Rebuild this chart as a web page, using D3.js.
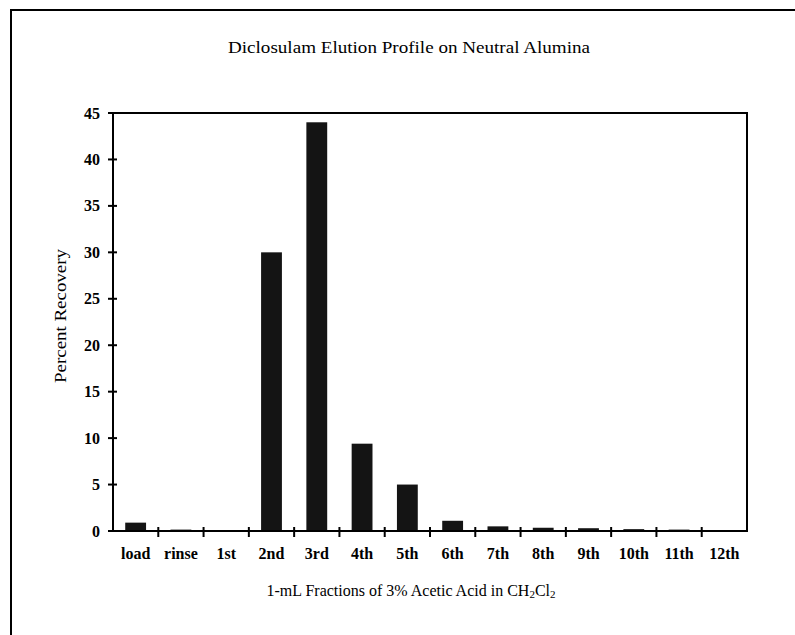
<!DOCTYPE html>
<html>
<head>
<meta charset="utf-8">
<script src="https://cdn.jsdelivr.net/npm/d3@7"></script>
<style>
body{margin:0;background:#fff}
svg{display:block}
text{font-family:"Liberation Serif","DejaVu Serif",serif;fill:#000}
</style>
</head>
<body>
<div id="chart"></div>
<script>
var fractions = ["load","rinse","1st","2nd","3rd","4th","5th","6th","7th","8th","9th","10th","11th","12th"]
var recovery = [0.9,0.15,0,30,44,9.4,5,1.1,0.5,0.35,0.3,0.2,0.15,0.1]
var yTicks = [0,5,10,15,20,25,30,35,40,45]

var data = fractions.map((f,i)=>({fraction:f,value:recovery[i]}))

var svg = d3.select("#chart")
  .append("svg")
  .attr("width",795)
  .attr("height",635)

// outer frame of the scanned figure
svg.append("path")
  .attr("d","M11,640 L11,10 L800,10")
  .attr("fill","none")
  .attr("stroke","black")
  .attr("stroke-width",2)

var plotL = 113, plotR = 747, plotT = 113, plotB = 531

var x = d3.scaleBand()
  .domain(fractions)
  .range([plotL,plotR])
  .paddingInner(0.54)
  .paddingOuter(0.27)

var y = d3.scaleLinear()
  .domain([0,45])
  .range([plotB,plotT])

// bars
svg.selectAll(".bar")
  .data(data)
  .enter()
  .append("rect")
  .attr("class","bar")
  .attr("x",d=>x(d.fraction))
  .attr("width",x.bandwidth())
  .attr("y",d=>y(d.value))
  .attr("height",d=>plotB-y(d.value))
  .attr("fill","#141414")

// plot frame
svg.append("rect")
  .attr("x",plotL)
  .attr("y",plotT)
  .attr("width",plotR-plotL)
  .attr("height",plotB-plotT)
  .attr("fill","none")
  .attr("stroke","black")
  .attr("stroke-width",2)

// y axis ticks, crossing the axis
svg.selectAll(".ytick")
  .data(yTicks)
  .enter()
  .append("line")
  .attr("x1",plotL-5)
  .attr("x2",plotL+4)
  .attr("y1",d=>y(d))
  .attr("y2",d=>y(d))
  .attr("stroke","black")
  .attr("stroke-width",2)

svg.selectAll(".ylab")
  .data(yTicks)
  .enter()
  .append("text")
  .text(d=>d)
  .attr("x",plotL-13)
  .attr("y",d=>y(d))
  .attr("text-anchor","end")
  .attr("dominant-baseline","central")
  .attr("font-size",16)
  .attr("font-weight",700)

// x axis ticks between categories
var bounds = d3.range(1,fractions.length).map(i=>plotL+i*(plotR-plotL)/fractions.length)
svg.selectAll(".xtick")
  .data(bounds)
  .enter()
  .append("line")
  .attr("x1",d=>d)
  .attr("x2",d=>d)
  .attr("y1",plotB-4)
  .attr("y2",plotB+6)
  .attr("stroke","black")
  .attr("stroke-width",2)

svg.selectAll(".xlab")
  .data(fractions)
  .enter()
  .append("text")
  .text(d=>d)
  .attr("x",d=>x(d)+x.bandwidth()/2)
  .attr("y",553)
  .attr("text-anchor","middle")
  .attr("dominant-baseline","central")
  .attr("font-size",16)
  .attr("font-weight",700)

// titles
svg.append("text")
  .text("Diclosulam Elution Profile on Neutral Alumina")
  .attr("x",409)
  .attr("y",47)
  .attr("text-anchor","middle")
  .attr("dominant-baseline","central")
  .attr("font-size",16)
  .attr("textLength",362)
  .attr("lengthAdjust","spacingAndGlyphs")

var xt = svg.append("text")
  .attr("x",411)
  .attr("y",590)
  .attr("text-anchor","middle")
  .attr("dominant-baseline","central")
  .attr("font-size",16)
xt.append("tspan").text("1-mL Fractions of 3% Acetic Acid in CH")
xt.append("tspan").text("2").attr("font-size",11).attr("dy",4)
xt.append("tspan").text("Cl").attr("dy",-4)
xt.append("tspan").text("2").attr("font-size",11).attr("dy",4)

svg.append("text")
  .text("Percent Recovery")
  .attr("transform","translate(60,316) rotate(-90)")
  .attr("text-anchor","middle")
  .attr("dominant-baseline","central")
  .attr("font-size",16)
  .attr("textLength",134)
  .attr("lengthAdjust","spacingAndGlyphs")
</script>
</body>
</html>
